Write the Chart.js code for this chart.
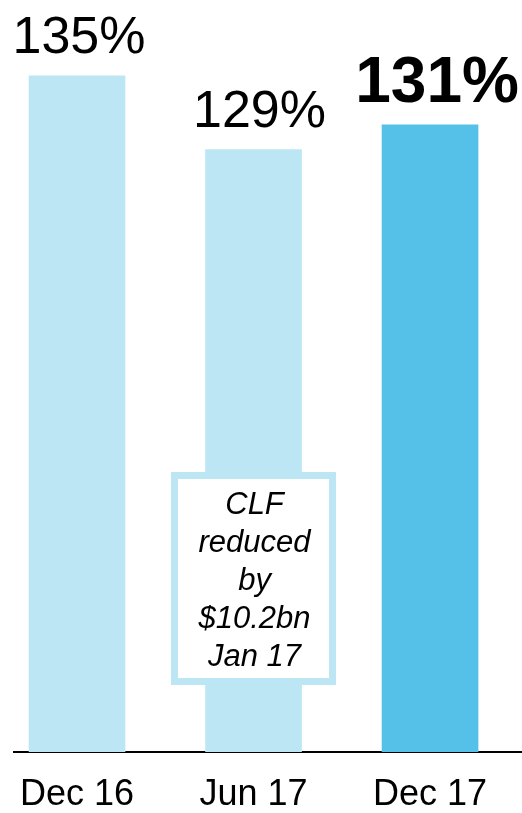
<!DOCTYPE html>
<html>
<head>
<meta charset="utf-8">
<title>Liquidity coverage ratio</title>
<script src="https://cdn.jsdelivr.net/npm/chart.js@4/dist/chart.umd.min.js"></script>
<style>
    html, body { margin: 0; padding: 0; background: #fff; }
    #wrap { width: 522px; height: 813px; }
</style>
</head>
<body>
<div id="wrap"><canvas id="ratioChart"></canvas></div>
<script>
// Period labels and ratio values (%)
const periods = ['Dec 16', 'Jun 17', 'Dec 17'];
const ratios = [135, 129, 131];
const noteLines = ['CLF', 'reduced', 'by', '$10.2bn', 'Jan 17'];

const FONT = 'Arial, "Liberation Sans", sans-serif';
const LIGHT = '#bde6f5';
const DARK = '#55c1e8';

// value labels above the bars; the latest period is emphasised
const valueLabels = {
    id: 'valueLabels',
    afterDatasetsDraw(chart) {
        const ctx = chart.ctx;
        const bars = chart.getDatasetMeta(0).data;
        const nudge = [2, 6, 7];
        ctx.save();
        ctx.fillStyle = '#000';
        ctx.textAlign = 'center';
        ctx.textBaseline = 'alphabetic';
        bars.forEach((bar, i) => {
            const last = i === bars.length - 1;
            ctx.font = (last ? 'bold 64px ' : '52px ') + FONT;
            ctx.fillText(ratios[i] + '%', bar.x + nudge[i], bar.y - 23);
        });
        ctx.restore();
    }
};

// boxed note sitting over the Jun 17 bar
const noteBox = {
    id: 'noteBox',
    afterDatasetsDraw(chart) {
        const ctx = chart.ctx;
        const bar = chart.getDatasetMeta(0).data[1];
        const w = 165, h = 213, lw = 7;
        const left = bar.x - w / 2;
        const top = chart.chartArea.bottom - 67 - h;
        ctx.save();
        ctx.fillStyle = '#fff';
        ctx.fillRect(left, top, w, h);
        ctx.strokeStyle = LIGHT;
        ctx.lineWidth = lw;
        ctx.strokeRect(left + lw / 2, top + lw / 2, w - lw, h - lw);
        ctx.fillStyle = '#000';
        ctx.font = 'italic 31px ' + FONT;
        ctx.textAlign = 'center';
        ctx.textBaseline = 'alphabetic';
        noteLines.forEach((line, i) => {
            ctx.fillText(line, bar.x + 1, top + 41.5 + i * 38);
        });
        ctx.restore();
    }
};

const points = ratios.map((v, i) => ({ x: i, y: v }));

new Chart(document.getElementById('ratioChart'), {
    type: 'bar',
    data: {
        datasets: [{
            data: points,
            backgroundColor: ratios.map((v, i) => i === ratios.length - 1 ? DARK : LIGHT),
            borderWidth: 0,
            barThickness: 96
        }]
    },
    options: {
        responsive: true,
        maintainAspectRatio: false,
        animation: false,
        layout: { padding: { top: 2, left: 14, right: 0, bottom: -25 } },
        plugins: {
            legend: { display: false },
            tooltip: { enabled: false }
        },
        scales: {
            x: {
                type: 'linear',
                min: -0.357,
                max: 2.521,
                offset: false,
                z: 1,
                grid: { display: false, drawTicks: false },
                border: { display: true, color: '#000', width: 2 },
                // one tick per period, no bound ticks
                afterBuildTicks: (scale) => {
                    scale.ticks = periods.map((p, i) => ({ value: i }));
                },
                // labels fit inside the axis span, so no extra side margins
                afterFit: (scale) => {
                    scale.paddingLeft = 0;
                    scale.paddingRight = 0;
                },
                ticks: {
                    autoSkip: false,
                    maxRotation: 0,
                    padding: 25,
                    color: '#000',
                    font: { family: FONT, size: 36, lineHeight: 1 },
                    callback: (v) => periods[v] || ''
                }
            },
            y: {
                display: false,
                min: 80,
                max: 141
            }
        }
    },
    plugins: [valueLabels, noteBox]
});
</script>
</body>
</html>
